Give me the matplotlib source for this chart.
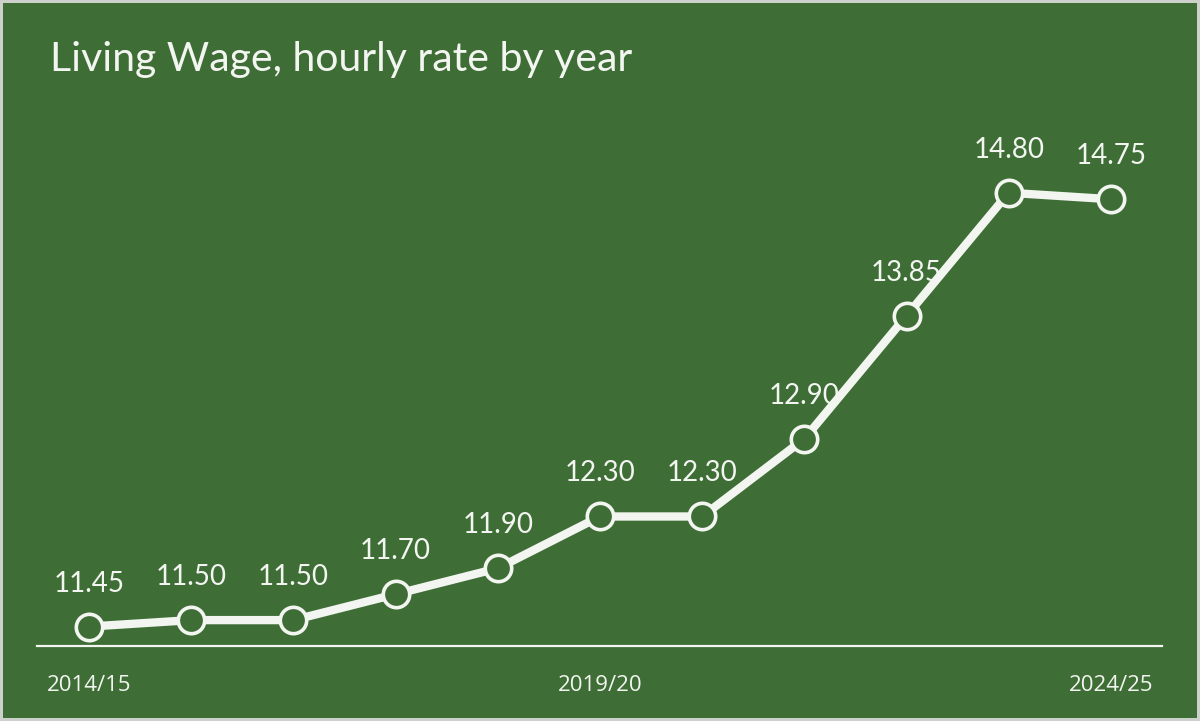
import numpy as np
import matplotlib.pyplot as plt

years = ['2014/15', '2015/16', '2016/17', '2017/18', '2018/19', '2019/20',
         '2020/21', '2021/22', '2022/23', '2023/24', '2024/25']
rates = [11.45, 11.50, 11.50, 11.70, 11.90, 12.30, 12.30, 12.90, 13.85, 14.80, 14.75]
shown_ticks = ['2014/15', '2019/20', '2024/25']

green = '#3e6e36'
white = '#f3f5f1'

fig = plt.figure(figsize=(12, 7.21), dpi=100)
fig.patch.set_facecolor(green)
fig.patch.set_edgecolor('#cdd1cc')
fig.patch.set_linewidth(4)

ax = fig.add_axes([37 / 1200, 75 / 721, 1125 / 1200, 586 / 721])
ax.set_facecolor('none')
x = np.arange(len(years))
ax.plot(x, rates, color=white, lw=6, marker='o', ms=19, mfc=green,
        mec=white, mew=2.6, zorder=3, solid_capstyle='round')
for xi, v in zip(x, rates):
    ax.annotate(f'{v:.2f}', (xi, v), xytext=(0, 31), textcoords='offset points',
                ha='center', va='center', color=white, fontsize=20,
                family=['Lato', 'DejaVu Sans'], zorder=4)

ax.set_xlim(-0.51, 10.5)
ax.set_ylim(11.3, 11.3 + 586 / 129.5)
for s in ['top', 'right', 'left']:
    ax.spines[s].set_visible(False)
ax.spines['bottom'].set_color(white)
ax.spines['bottom'].set_linewidth(1.6)
ax.set_yticks([])
ax.set_xticks([years.index(t) for t in shown_ticks])
ax.set_xticklabels(shown_ticks, color=white, fontsize=16, family=['Open Sans', 'DejaVu Sans'])
ax.tick_params(axis='x', length=0, pad=21)

fig.text(50 / 1200, 1 - 60 / 721, 'Living Wage, hourly rate by year', color=white,
         fontsize=29.5, family=['Lato', 'DejaVu Sans'],
         ha='left', va='center')

fig.savefig('out.png', dpi=100, facecolor=fig.get_facecolor(), edgecolor=fig.patch.get_edgecolor())
